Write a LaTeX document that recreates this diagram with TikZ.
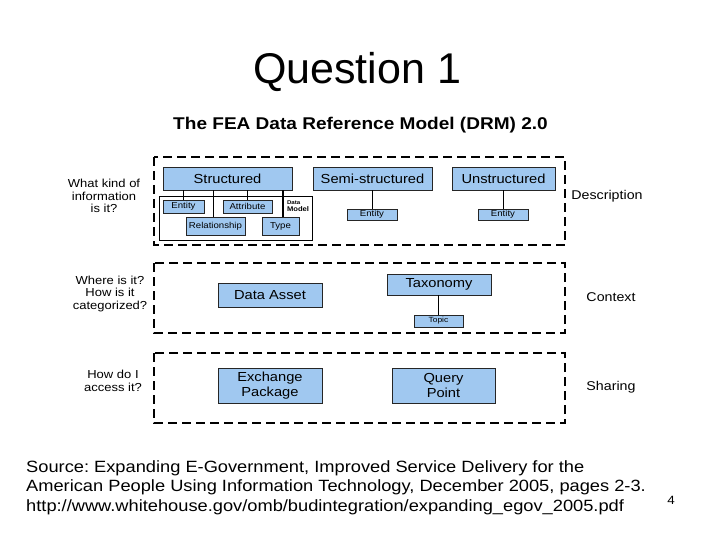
\documentclass[tikz,border=0pt]{standalone}
\usepackage{fontspec}
\setmainfont[FakeStretch=1.12]{Liberation Sans}
\newfontfamily\titlefont{Liberation Sans}
\usetikzlibrary{calc}
\definecolor{boxblue}{RGB}{160,200,240}
\begin{document}
\frenchspacing
\begin{tikzpicture}[x=1pt,y=-1pt,
  bx/.style={draw=black!85, line width=0.8pt, fill=boxblue, inner sep=0pt, align=center, font=\fontsize{13.1}{14.5}\selectfont},
  sbx/.style={bx, font=\fontsize{8.6}{10}\selectfont},
  grp/.style={draw=black, line width=2.6pt, dash pattern=on 9pt off 5pt},
  lbl/.style={align=center, inner sep=0pt, font=\fontsize{11.6}{12.5}\selectfont},
  rlbl/.style={inner sep=0pt, font=\fontsize{12.7}{14}\selectfont},
  conn/.style={draw=black, line width=0.8pt}]
\fill[white] (0,0) rectangle (720,540);
\useasboundingbox (0,0) rectangle (720,540);

% titles
\node[anchor=base, inner sep=0pt, font=\titlefont\fontsize{43}{43}\selectfont] (title) at (357,84) {Question 1};
\node[anchor=base, inner sep=0pt, font=\bfseries\fontsize{17}{18}\selectfont] (sub) at (360.5,130) {The FEA Data Reference Model (DRM) 2.0};

% groups
\draw[grp] (154,157) rectangle (565,245);
\draw[grp] (154,263) rectangle (565,333);
\draw[grp] (154,353) rectangle (565,423);

% description
\node[draw=black, line width=0.8pt, fill=white, inner sep=0pt, minimum width=153pt, minimum height=44pt] (dmbox) at (235.5,218) {};
\node[bx, minimum width=129pt, minimum height=23pt] (str) at (227.5,178.5) {Structured};
\node[bx, minimum width=119pt, minimum height=23pt] (semi) at (372.5,178.5) {Semi-structured};
\node[bx, minimum width=103pt, minimum height=23pt] (unst) at (503.5,178.5) {Unstructured};
\node[sbx, minimum width=41pt, minimum height=13pt] (e1) at (183.5,206.5) {Entity};
\node[sbx, minimum width=49pt, minimum height=13pt] (attr) at (247.5,206.5) {Attribute};
\node[sbx, minimum width=59pt, minimum height=18pt] (rel) at (215.5,226) {Relationship};
\node[sbx, minimum width=37pt, minimum height=18pt] (type) at (280.5,226) {Type};
\node[inner sep=0pt, align=left, font=\bfseries\fontsize{6.8}{7.5}\selectfont] (dm) at (298,206) {{\fontsize{5.5}{6.5}\selectfont Data}\\Model};
\node[sbx, minimum width=50pt, minimum height=11pt] (e2) at (372,214.5) {Entity};
\node[sbx, minimum width=50pt, minimum height=11pt] (e3) at (503,214.5) {Entity};

\draw[conn] (str.south -| e1.north) -- (e1.north);
\draw[conn] (str.south -| attr.north) -- (attr.north);
\draw[conn] ([xshift=-2.5pt]str.south -| rel.north) -- ([xshift=-2.5pt]rel.north);
\draw[conn, line width=2pt] ([xshift=2.5pt]str.south -| type.north) -- ([xshift=2.5pt]type.north);
\draw[conn] (semi.south -| e2.north) -- (e2.north);
\draw[conn] (unst.south -| e3.north) -- (e3.north);

% context
\node[bx, minimum width=104pt, minimum height=24pt] (asset) at (270,295) {Data Asset};
\node[bx, minimum width=104pt, minimum height=21pt] (tax) at (439,284.5) {Taxonomy};
\node[sbx, font=\fontsize{7.5}{9}\selectfont, minimum width=49pt, minimum height=12pt] (topic) at (438.5,321) {Topic};
\draw[conn] (tax.south -| topic.north) -- (topic.north);

% sharing
\node[bx, minimum width=104pt, minimum height=35pt] (exch) at (270,385.5) {Exchange\\Package};
\node[bx, minimum width=103pt, minimum height=35pt] (query) at (443.5,385.5) {Query\\Point};

% side labels
\node[lbl] (q1) at (104,196) {What kind of\\information\\is it?};
\node[lbl] (q2) at (110,294) {Where is it?\\How is it\\categorized?};
\node[lbl] (q3) at (113,381) {How do I\\access it?};
\node[rlbl] (l1) at (607,196) {Description};
\node[rlbl] (l2) at (611,297) {Context};
\node[rlbl] (l3) at (611,387) {Sharing};

% source
\node[anchor=north west, inner sep=0pt, align=left, font=\fontsize{16.3}{19.8}\selectfont] (src) at (26,460) {Source: Expanding E-Government, Improved Service Delivery for the\\American People Using Information Technology, December 2005, pages 2-3.\\http://www.whitehouse.gov/omb/budintegration/expanding\_egov\_2005.pdf};
\node[inner sep=0pt, font=\fontsize{12}{13}\selectfont] (pg) at (671,500) {4};
\end{tikzpicture}
\end{document}
